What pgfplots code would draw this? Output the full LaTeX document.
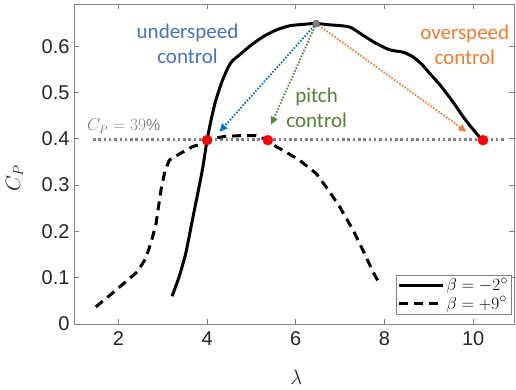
\documentclass[border=0pt]{standalone}
\usepackage{pgfplots}
\pgfplotsset{compat=1.18}
\usepackage{fontspec}
\setmainfont{Liberation Sans}
\newfontfamily\calibri{Carlito}
\usetikzlibrary{arrows.meta}
\definecolor{ublue}{RGB}{68,114,196}
\definecolor{ablue}{RGB}{0,112,200}
\definecolor{pgreen}{RGB}{84,130,53}
\definecolor{agreen}{RGB}{90,140,55}
\definecolor{oorange}{RGB}{237,125,49}
\definecolor{dotgray}{RGB}{128,128,128}
\begin{document}
\begin{tikzpicture}
\useasboundingbox (0,0) rectangle (516pt,389pt);
\begin{axis}[
  at={(74pt,65pt)}, anchor=south west,
  scale only axis, width=440pt, height=319.5pt,
  xmin=1, xmax=10.92, ymin=0, ymax=0.69,
  xtick={2,4,6,8,10}, ytick={0,0.1,0.2,0.3,0.4,0.5,0.6},
  xtick pos=both, ytick pos=both, tick align=inside,
  major tick length=5pt,
  axis line style={black!50, line width=0.6pt},
  tick style={black!50, line width=0.6pt},
  /pgf/number format/assume math mode=true,
  tick label style={font=\fontsize{20}{20}\selectfont, text=black!85},
  yticklabel style={/pgf/number format/fixed, /pgf/number format/precision=1, xshift=-1pt},
  xticklabel style={yshift=-4pt},
  xlabel={$\lambda$}, ylabel={$C_P$},
  label style={font=\fontsize{22}{22}\selectfont, text=black!85},
  xlabel style={at={(axis description cs:0.505,-0.168)}, anchor=center},
  ylabel style={at={(axis description cs:-0.135,0.457)}, anchor=center},
  legend style={at={(axis description cs:0.9948,0.0304)}, anchor=south east,
    draw=black!50, fill=white, font=\fontsize{19}{21}\selectfont,
    inner sep=1.5pt, row sep=0pt, legend cell align=left},
  legend image code/.code={\draw[#1] (0pt,0pt) -- (44pt,0pt);},
  line join=round,
]
\addplot[dotgray, line width=2.5pt, dash pattern=on 2.5pt off 2.8pt, forget plot]
  coordinates {(1.43,0.398)(10.75,0.398)};
\addplot[black, line width=3pt, smooth, tension=0.4] coordinates {
(3.21,0.06)(3.37,0.102)(3.52,0.153)(3.67,0.225)(3.79,0.282)(3.90,0.336)
(4.0,0.397)(4.10,0.445)(4.20,0.484)(4.35,0.527)
(4.50,0.559)(4.60,0.571)(4.73,0.581)(4.95,0.599)(5.255,0.620)(5.56,0.635)(5.86,0.644)
(6.16,0.647)(6.46,0.649)(6.77,0.646)(7.05,0.644)(7.25,0.640)(7.51,0.624)(7.81,0.606)
(8.12,0.592)(8.42,0.587)(8.64,0.577)(8.85,0.560)(9.02,0.541)(9.22,0.520)(9.40,0.498)(9.60,0.472)(9.77,0.448)
(9.93,0.428)(10.07,0.412)(10.2,0.397)};
\addlegendentry{$\beta=-2^\circ$}
\addplot[black, line width=3pt, dash pattern=on 9pt off 6pt] coordinates {
(1.49,0.037)(1.86,0.066)(2.15,0.09)(2.43,0.113)(2.62,0.142)(2.75,0.18)
(2.85,0.217)(2.96,0.289)(3.05,0.33)(3.15,0.354)(3.41,0.369)(3.67,0.383)
(3.9,0.39)(4.1,0.40)(4.39,0.405)(4.8,0.407)(5.1,0.407)(5.37,0.397)(5.56,0.383)
(5.8,0.37)(6.08,0.354)(6.46,0.325)(6.76,0.286)(6.99,0.253)(7.29,0.203)
(7.51,0.16)(7.74,0.113)(7.89,0.086)};
\addlegendentry{$\beta=+9^\circ$}
\addplot[ablue, line width=1.8pt, dash pattern=on 1.6pt off 1.6pt,
  -{Triangle[length=8pt,width=7pt]}, forget plot]
  coordinates {(6.46,0.649)(4.28,0.415)};
\addplot[agreen, line width=1.8pt, dash pattern=on 1.6pt off 1.6pt,
  -{Triangle[length=8pt,width=7pt]}, forget plot]
  coordinates {(6.46,0.649)(5.44,0.43)};
\addplot[oorange, line width=1.8pt, dash pattern=on 1.6pt off 1.6pt,
  -{Triangle[length=8pt,width=7pt]}, forget plot]
  coordinates {(6.46,0.649)(9.85,0.415)};
\addplot[only marks, mark=*, mark size=5pt, red, forget plot]
  coordinates {(4.0,0.397)(5.37,0.397)(10.22,0.397)};
\addplot[only marks, mark=*, mark size=3.5pt, fill=black!50, draw=black!65, forget plot]
  coordinates {(6.46,0.649)};
\node[ublue, font=\calibri\fontsize{21}{25}\selectfont, align=center]
  at (axis cs:3.56,0.605) {underspeed\\control};
\node[pgreen, font=\calibri\fontsize{21}{25}\selectfont, align=center]
  at (axis cs:6.47,0.466) {pitch\\control};
\node[oorange, font=\calibri\fontsize{21}{25}\selectfont, align=center]
  at (axis cs:9.81,0.603) {overspeed\\control};
\node[dotgray, font=\fontsize{16}{16}\selectfont]
  at (axis cs:2.12,0.428) {$C_P = 39\%$};
\end{axis}
\end{tikzpicture}
\end{document}
